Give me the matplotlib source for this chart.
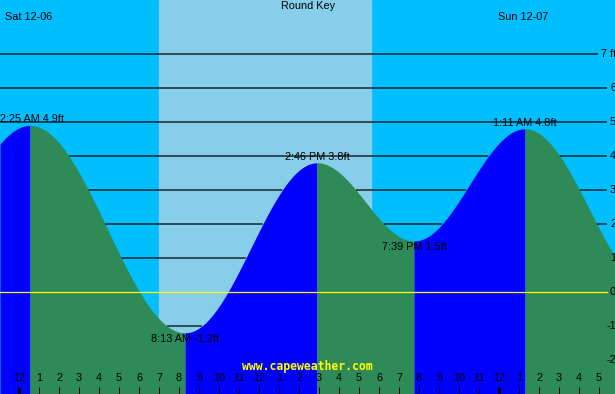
import numpy as np
import matplotlib
matplotlib.use("Agg")
import matplotlib.pyplot as plt

# tide extremes, hours from Sat 12-06 midnight (first/last are off-screen)
ext_t = [-7.0, 0.55, 8.3, 14.9, 19.75, 25.3, 31.8]
ext_h = [-1.0, 4.9, -1.2, 3.8, 1.5, 4.8, 0.0]
ext_lbl = [None, "2:25 AM 4.9ft", "8:13 AM -1.2ft", "2:46 PM 3.8ft",
           "7:39 PM 1.5ft", "1:11 AM 4.8ft", None]

day_start, day_end = 7.0, 17.6          # light band
levels = [7, 6, 5, 4, 3, 2, 1, 0, -1, -2]
level_lbl = ["7 ft", "6", "5", "4", "3", "2", "1", "0", "-1", "-2"]
hours = list(range(0, 30))

x0, x1 = -0.95, 29.8
y0, y1 = -3.0, 292 / 34

plt.rcParams['font.family'] = ['Liberation Sans', 'DejaVu Sans']

def tide(t):
    out = np.zeros_like(t)
    for i in range(len(ext_t) - 1):
        m = (t >= ext_t[i]) & (t <= ext_t[i + 1])
        f = (t[m] - ext_t[i]) / (ext_t[i + 1] - ext_t[i])
        out[m] = ext_h[i] + (ext_h[i + 1] - ext_h[i]) * (1 - np.cos(np.pi * f)) / 2
    return out

fig = plt.figure(figsize=(6.15, 3.94), dpi=100)
ax = fig.add_axes([0, 0, 1, 1])
ax.set_xlim(x0, x1)
ax.set_ylim(y0, y1)
ax.axis('off')

ax.axvspan(x0, x1, color='#00BFFF', zorder=0)
ax.axvspan(day_start, day_end, color='#87CEEB', zorder=0.5)

# fill under curve, blue rising / green falling
for i in range(len(ext_t) - 1):
    a, b = max(ext_t[i], x0), min(ext_t[i + 1], x1)
    if a >= b:
        continue
    tt = np.linspace(a, b, 400)
    col = '#0000FF' if ext_h[i + 1] > ext_h[i] else '#2E8B57'
    ax.fill_between(tt, tide(tt), y0, color=col, lw=0, zorder=2)

t = np.linspace(x0, x1, 3000)
h = tide(t)

# extreme labels
for tx, hx, lb in zip(ext_t, ext_h, ext_lbl):
    if lb is None:
        continue
    rising_peak = lb in ("2:25 AM 4.9ft", "2:46 PM 3.8ft", "1:11 AM 4.8ft")
    dy = 4.5 if rising_peak else -4.5
    if tx < 1.5:
        ax.annotate(lb, (x0, hx), xytext=(0, dy), textcoords='offset points',
                    ha='left', va='center', fontsize=7.8, zorder=3)
    else:
        ax.annotate(lb, (tx, hx), xytext=(0, dy), textcoords='offset points',
                    ha='center', va='center', fontsize=7.8, zorder=3)

# grid lines visible only above the water
for lv in levels:
    if lv == 0:
        continue
    end = 28.95 if lv == 7 else 29.4
    yy = np.where((h < lv) & (t <= end), lv, np.nan)
    ax.plot(t, yy, color='black', lw=0.9, zorder=4, solid_capstyle='butt')

ax.plot([x0, 29.4], [0, 0], color='#FFFF00', lw=0.9, zorder=5)

for lv, lb in zip(levels, level_lbl):
    ax.text(29.85, lv, lb, ha='right', va='center', fontsize=7.8, zorder=6)

# hour ticks along the bottom
for hr in hours:
    lab = str(hr % 12 or 12)
    ax.text(hr, -2.53, lab, ha='center', va='center', fontsize=7.8, zorder=6)
    ax.plot([hr, hr], [y0, -2.79], color='black',
            lw=2.2 if hr % 24 == 0 else 0.75, zorder=6, solid_capstyle='butt')

ax.text(-0.7, 8.1, "Sat 12-06", ha='left', va='center', fontsize=7.8, zorder=6)
ax.text(14.45, 8.4, "Round Key", ha='center', va='center', fontsize=7.8, zorder=6)
ax.text(25.22, 8.1, "Sun 12-07", ha='center', va='center', fontsize=7.8, zorder=6)
ax.text(14.4, -2.2, "www.capeweather.com", ha='center', va='center',
        family='DejaVu Sans Mono', fontweight='bold', fontsize=8.3,
        color='#FFFF00', zorder=6)

fig.savefig("out.png", dpi=100)
